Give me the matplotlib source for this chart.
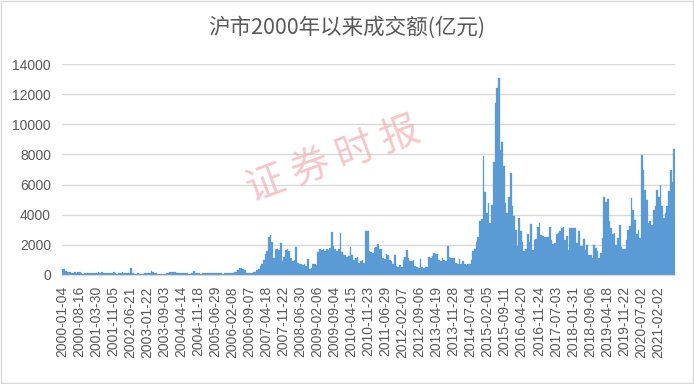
import matplotlib
matplotlib.use('Agg')
import matplotlib.pyplot as plt
from matplotlib.patches import Rectangle
import numpy as np

title = '沪市2000年以来成交额(亿元)'
watermark = '证券时报'

# one label every 150 trading days
tick_labels = ['2000-01-04', '2000-08-16', '2001-03-30', '2001-11-05', '2002-06-21',
               '2003-01-22', '2003-09-03', '2004-04-14', '2004-11-18', '2005-06-29',
               '2006-02-08', '2006-09-07', '2007-04-18', '2007-11-22', '2008-06-30',
               '2009-02-06', '2009-09-04', '2010-04-15', '2010-11-23', '2011-06-29',
               '2012-02-07', '2012-09-06', '2013-04-19', '2013-11-28', '2014-07-04',
               '2015-02-05', '2015-09-11', '2016-04-20', '2016-11-24', '2017-07-03',
               '2018-01-31', '2018-09-06', '2019-04-18', '2019-11-22', '2020-07-02',
               '2021-02-02']

# turnover (亿元), one value per ~15 trading days, 10 values per label interval
turnover = [
    400, 380, 250, 200, 180, 130, 150, 170, 130, 180,
    200, 120, 60, 100, 150, 130, 100, 150, 120, 100,
    150, 170, 160, 170, 160, 160, 150, 130, 100, 120,
    200, 120, 80, 100, 150, 180, 140, 120, 120, 130,
    480, 100, 60, 80, 150, 70, 50, 60, 150, 100,
    120, 100, 280, 200, 150, 100, 60, 50, 60, 80,
    80, 100, 150, 170, 200, 200, 200, 160, 150, 140,
    120, 100, 100, 100, 80, 60, 150, 250, 150, 120,
    100, 80, 100, 110, 100, 100, 150, 100, 100, 130,
    120, 150, 100, 100, 90, 100, 140, 120, 150, 150,
    150, 180, 200, 300, 450, 480, 420, 300, 160, 150,
    150, 160, 170, 200, 330, 400, 600, 700, 1000, 1400,
    1600, 2500, 2650, 2200, 1100, 1700, 1750, 1650, 2100, 900,
    1200, 1650, 1700, 1600, 1100, 950, 1000, 1850, 800, 700,
    750, 650, 700, 600, 1050, 400, 450, 700, 750, 650,
    1500, 1750, 1650, 1700, 1600, 1700, 1650, 1800, 2850, 1900,
    1700, 1600, 1750, 2800, 1500, 1300, 1350, 1200, 1250, 1850,
    1300, 1000, 1100, 1200, 800, 900, 1000, 800, 2950, 2900,
    1600, 1500, 1450, 1800, 1850, 2050, 1750, 1700, 1100, 1050,
    1400, 1350, 1000, 900, 700, 1300, 600, 500, 650, 550,
    1000, 1200, 1650, 1100, 950, 900, 1000, 600, 500, 450,
    1050, 500, 450, 550, 500, 1200, 1150, 1250, 1450, 1400,
    1400, 1000, 900, 1100, 1000, 950, 1900, 1200, 1100, 1150,
    1100, 800, 700, 1050, 750, 900, 700, 650, 700, 750,
    1000, 1600, 1700, 2200, 2550, 3600, 3700, 7900, 5500, 4100,
    4750, 3450, 4650, 7500, 11400, 12400, 13100, 8300, 8850, 7200,
    4750, 4100, 5200, 6750, 4550, 3900, 3000, 1900, 3750, 2900,
    2200, 1600, 1700, 2750, 2200, 3400, 1650, 2300, 2400, 3200,
    3450, 2650, 2600, 2550, 2500, 2550, 3200, 2300, 2050, 2100,
    2750, 2800, 2900, 3100, 3200, 2300, 2600, 1650, 3100, 3150,
    3100, 3100, 2100, 2900, 1900, 1900, 2400, 1650, 2000, 1350,
    1300, 1100, 2000, 1800, 1600, 1100, 1450, 2450, 5200, 4850,
    5050, 3550, 3100, 2750, 2800, 2000, 2450, 3300, 1850, 1700,
    1700, 2300, 3000, 3250, 5100, 4300, 3650, 2750, 3000, 2450,
    7950, 7000, 5650, 5000, 3450, 3550, 3300, 4300, 4550, 5650,
    5200, 6000, 4550, 3750, 4100, 4550, 5550, 7000, 6200, 8350,
]
per_label = 10

text_color = '#595959'
grid_color = '#D9D9D9'
bar_color = '#5B9BD5'

plt.rcParams['font.family'] = ['Liberation Sans', 'Noto Sans CJK SC', 'DejaVu Sans']

fig = plt.figure(figsize=(6.94, 3.84), dpi=100)
ax = fig.add_axes([62/694, 1 - 275/384, (675 - 62)/694, (275 - 64)/384])

x = np.arange(len(turnover))
ax.bar(x, turnover, width=1.0, color=bar_color, edgecolor=bar_color, linewidth=0.2)

ax.set_xlim(-0.5, len(turnover) - 0.5)
ax.set_ylim(0, 14000)
ax.set_yticks(np.arange(0, 14001, 2000))
ax.yaxis.grid(True, color=grid_color, linewidth=1.0)
ax.set_axisbelow(True)

ticks = np.arange(len(tick_labels)) * per_label - 0.5
ax.set_xticks(ticks)
ax.set_xticklabels(tick_labels, rotation=90, va='top', ha='center')

for s in ['top', 'right', 'left']:
    ax.spines[s].set_visible(False)
ax.spines['bottom'].set_color(grid_color)
ax.tick_params(axis='y', length=0, pad=8, labelsize=10, labelcolor=text_color)
ax.tick_params(axis='x', length=0, pad=8, labelsize=10, labelcolor=text_color)

fig.text(0.5, 1 - 28/384, title, ha='center', va='center', fontsize=15.5,
         color=text_color, family=['Noto Sans CJK SC', 'DejaVu Sans'])

# watermark, spread characters a little
fig.text(333/694, 1 - 160/384, ' '.join(watermark), ha='center', va='center', fontsize=28,
         rotation=20, color='#F2A9AD', alpha=0.65, fontweight='light',
         family='Noto Sans CJK SC')

# chart border
fig.patches.append(Rectangle((0.001, 0.002), 0.997, 0.995, transform=fig.transFigure,
                             fill=False, edgecolor=grid_color, linewidth=1.0))

fig.savefig('out.png', dpi=100)
